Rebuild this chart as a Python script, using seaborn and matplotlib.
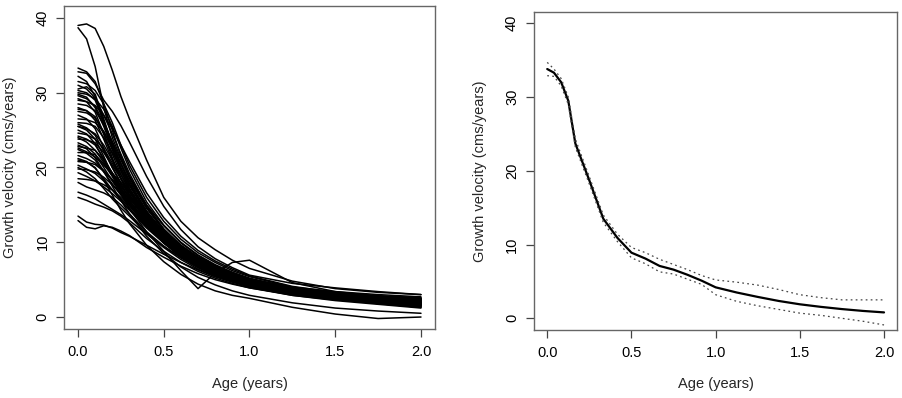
import matplotlib
matplotlib.use("Agg")
import matplotlib.pyplot as plt
import seaborn as sns
import pandas as pd

# ---------------- data ----------------
ages = [0.0, 0.05, 0.1, 0.15, 0.2, 0.25, 0.3, 0.4, 0.5, 0.6, 0.7, 0.8, 0.9, 1.0, 1.25, 1.5, 1.75, 2.0]

c01 = [39.0, 39.2, 38.6, 36.2, 33.0, 29.5, 26.5, 21.0, 16.0, 12.8, 10.6, 9.0, 7.6, 6.5, 4.8, 3.8, 3.3, 3.0]
c02 = [38.7, 37.2, 33.5, 28.0, 24.0, 21.2, 18.8, 15.0, 12.2, 9.9, 8.2, 6.9, 5.9, 5.1, 3.7, 2.9, 2.3, 1.9]
c03 = [33.3, 32.8, 31.5, 28.5, 25.0, 21.5, 18.8, 14.6, 11.6, 9.4, 7.8, 6.6, 5.6, 4.9, 3.7, 3.0, 2.5, 2.1]
c04 = [32.8, 32.6, 31.2, 29.0, 27.5, 25.6, 23.4, 18.8, 14.8, 11.7, 9.4, 7.8, 6.6, 5.6, 4.5, 3.9, 3.4, 3.0]
c05 = [32.2, 31.5, 29.5, 26.0, 22.5, 19.5, 17.2, 13.6, 10.9, 8.9, 7.4, 6.2, 5.3, 4.6, 3.4, 2.6, 2.0, 1.5]
c06 = [31.5, 31.2, 30.3, 28.5, 26.0, 23.0, 20.3, 16.0, 12.8, 10.4, 8.6, 7.3, 6.2, 5.4, 4.0, 3.2, 2.7, 2.4]
c07 = [31.0, 30.5, 29.3, 27.0, 24.5, 21.8, 19.2, 14.9, 11.8, 9.5, 7.8, 6.5, 5.5, 4.7, 3.4, 2.5, 1.9, 1.4]
c08 = [30.5, 30.8, 29.8, 26.5, 23.0, 20.0, 17.6, 14.0, 11.3, 9.2, 7.6, 6.4, 5.5, 4.8, 3.6, 3.0, 2.6, 2.3]
c09 = [30.0, 29.8, 29.2, 27.8, 25.5, 22.6, 19.8, 15.4, 12.3, 10.0, 8.3, 7.0, 6.0, 5.2, 3.8, 3.0, 2.4, 2.0]
c10 = [29.8, 29.4, 28.0, 25.5, 22.5, 19.6, 17.2, 13.5, 10.9, 8.9, 7.5, 6.4, 5.5, 4.8, 3.5, 2.8, 2.3, 1.9]
c11 = [29.6, 29.2, 28.2, 26.0, 23.5, 21.0, 18.6, 14.6, 11.7, 9.6, 8.0, 6.8, 5.8, 5.0, 3.6, 2.7, 2.1, 1.6]
c12 = [29.2, 28.8, 27.4, 24.5, 21.3, 18.5, 16.2, 12.8, 10.3, 8.4, 7.0, 5.9, 5.0, 4.3, 3.2, 2.6, 2.1, 1.7]
c13 = [28.5, 28.3, 27.6, 25.8, 23.3, 20.5, 17.8, 13.8, 11.0, 9.0, 7.5, 6.3, 5.4, 4.7, 3.4, 2.7, 2.2, 1.8]
c14 = [28.0, 27.6, 26.3, 23.8, 21.0, 18.5, 16.4, 13.2, 10.8, 8.9, 7.4, 6.3, 5.4, 4.7, 3.6, 3.0, 2.5, 2.2]
c15 = [27.5, 27.3, 26.6, 24.8, 22.4, 19.9, 17.6, 14.0, 11.3, 9.2, 7.6, 6.4, 5.5, 4.8, 3.6, 2.9, 2.4, 2.0]
c16 = [27.0, 26.5, 25.2, 22.6, 20.0, 17.8, 16.0, 13.0, 10.6, 8.7, 7.2, 6.0, 5.1, 4.4, 3.2, 2.5, 2.0, 1.6]
c17 = [26.5, 26.4, 26.0, 24.8, 22.8, 20.5, 18.3, 14.6, 11.7, 9.6, 8.0, 6.8, 5.8, 5.0, 3.8, 3.1, 2.7, 2.4]
c18 = [25.8, 25.3, 24.3, 22.2, 20.0, 18.0, 16.3, 13.3, 10.9, 9.1, 7.6, 6.4, 5.5, 4.8, 3.7, 3.1, 2.7, 2.4]
c19 = [25.5, 25.2, 24.5, 23.0, 21.0, 19.0, 17.1, 13.8, 11.3, 9.3, 7.7, 6.5, 5.6, 4.9, 3.6, 2.8, 2.2, 1.7]
c20 = [25.0, 24.5, 23.2, 21.0, 19.0, 17.2, 15.6, 12.8, 10.5, 8.6, 7.1, 5.9, 5.0, 4.3, 3.1, 2.4, 1.8, 1.3]
c21 = [24.6, 24.4, 23.8, 22.5, 20.6, 18.6, 16.7, 13.3, 10.7, 8.7, 7.2, 6.0, 5.2, 4.5, 3.3, 2.6, 2.1, 1.7]
c22 = [24.2, 23.8, 23.0, 21.2, 19.2, 17.3, 15.5, 12.6, 10.3, 8.5, 7.1, 6.0, 5.1, 4.4, 3.2, 2.6, 2.1, 1.8]
c23 = [23.8, 23.7, 23.3, 22.0, 20.3, 18.5, 16.8, 13.7, 11.2, 9.2, 7.7, 6.5, 5.6, 4.9, 3.8, 3.1, 2.7, 2.4]
c24 = [23.3, 22.8, 21.8, 20.0, 18.2, 16.5, 15.0, 12.2, 9.9, 8.1, 6.7, 5.6, 4.8, 4.1, 3.0, 2.4, 1.9, 1.5]
c25 = [22.8, 22.6, 22.3, 21.0, 19.3, 17.6, 15.9, 13.0, 10.7, 8.8, 7.3, 6.2, 5.3, 4.6, 3.5, 2.8, 2.4, 2.1]
c26 = [22.4, 21.9, 21.0, 19.4, 17.8, 16.3, 14.9, 12.3, 10.1, 8.3, 6.9, 5.8, 5.0, 4.3, 3.1, 2.4, 1.8, 1.3]
c27 = [22.0, 22.0, 21.7, 20.5, 18.8, 17.0, 15.3, 12.3, 9.9, 8.0, 6.6, 5.5, 4.7, 4.0, 2.9, 2.2, 1.7, 1.2]
c28 = [21.6, 21.2, 20.6, 19.6, 18.4, 17.1, 15.8, 13.2, 11.0, 9.1, 7.6, 6.5, 5.6, 4.9, 3.8, 3.2, 2.8, 2.5]
c29 = [21.2, 20.8, 19.9, 18.5, 17.0, 15.6, 14.3, 11.9, 9.9, 8.2, 6.9, 5.9, 5.1, 4.5, 3.5, 2.9, 2.5, 2.2]
c30 = [20.8, 20.7, 20.4, 19.5, 18.3, 16.8, 15.2, 12.4, 10.2, 8.4, 6.9, 5.8, 5.0, 4.3, 3.2, 2.5, 2.0, 1.6]
c31 = [20.3, 19.8, 19.2, 18.2, 17.0, 15.8, 14.6, 12.1, 10.0, 8.3, 6.9, 5.8, 5.0, 4.4, 3.4, 2.8, 2.4, 2.1]
c32 = [19.8, 19.7, 19.4, 18.7, 17.7, 16.5, 15.2, 12.6, 10.4, 8.7, 7.3, 6.2, 5.4, 4.8, 3.8, 3.2, 2.8, 2.6]
c33 = [19.3, 18.8, 18.2, 17.4, 16.5, 15.5, 14.4, 12.1, 10.0, 8.3, 6.9, 5.8, 5.0, 4.4, 3.3, 2.7, 2.2, 1.9]
c34 = [18.5, 18.4, 18.2, 17.7, 17.0, 16.0, 14.9, 12.3, 10.1, 8.4, 7.0, 5.9, 5.1, 4.5, 3.5, 2.9, 2.5, 2.2]
c35 = [18.0, 17.4, 17.0, 16.6, 16.0, 15.0, 13.8, 11.4, 9.5, 7.9, 6.6, 5.6, 4.8, 4.2, 3.2, 2.6, 2.2, 1.9]
c36 = [16.7, 16.3, 15.8, 15.1, 14.4, 13.7, 12.9, 11.1, 9.4, 8.0, 6.8, 5.8, 5.1, 4.5, 3.5, 2.9, 2.5, 2.3]
c37 = [16.0, 15.6, 15.1, 14.7, 14.2, 13.5, 12.6, 10.5, 8.8, 7.3, 6.1, 5.2, 4.5, 3.9, 2.9, 2.3, 1.9, 1.6]
c38 = [13.5, 12.7, 12.4, 12.3, 11.9, 11.3, 10.8, 9.6, 8.4, 7.3, 6.3, 5.4, 4.7, 4.2, 3.2, 2.6, 2.2, 1.9]
c39 = [12.9, 12.0, 11.8, 12.2, 12.0, 11.5, 10.9, 9.3, 8.0, 6.8, 5.8, 5.0, 4.4, 3.9, 3.0, 2.5, 2.1, 1.8]
c40 = [25.5, 25.0, 23.8, 21.5, 19.0, 16.6, 14.5, 11.4, 8.8, 6.2, 3.8, 5.9, 7.3, 7.6, 4.6, 3.4, 2.8, 2.4]
c41 = [21.0, 20.7, 20.0, 18.3, 16.3, 14.3, 12.5, 9.6, 7.4, 5.7, 4.4, 3.5, 2.9, 2.5, 1.3, 0.4, -0.2, 0.0]
c42 = [23.0, 22.5, 21.3, 19.5, 17.5, 15.6, 13.8, 10.8, 8.5, 6.7, 5.3, 4.3, 3.5, 2.9, 1.9, 1.2, 0.8, 0.5]
c43 = [27.8, 27.6, 26.8, 24.5, 21.8, 19.1, 16.8, 13.2, 10.6, 8.6, 7.2, 6.1, 5.2, 4.5, 3.3, 2.6, 2.1, 1.7]
c44 = [24.0, 23.4, 22.3, 20.7, 19.0, 17.5, 16.0, 13.4, 11.2, 9.4, 7.9, 6.7, 5.8, 5.1, 4.0, 3.4, 3.0, 2.7]
c45 = [30.3, 30.0, 29.0, 26.2, 23.2, 20.5, 18.1, 14.2, 11.3, 9.1, 7.5, 6.3, 5.3, 4.6, 3.3, 2.5, 1.9, 1.4]
c46 = [26.0, 25.9, 25.5, 24.0, 22.0, 19.9, 17.8, 14.1, 11.4, 9.3, 7.7, 6.5, 5.6, 4.9, 3.7, 3.0, 2.5, 2.1]
c47 = [20.0, 19.4, 18.5, 17.2, 15.8, 14.6, 13.5, 11.2, 9.3, 7.7, 6.4, 5.4, 4.7, 4.1, 3.0, 2.4, 1.9, 1.5]
c48 = [22.6, 22.1, 21.4, 20.3, 19.2, 18.0, 16.7, 13.9, 11.5, 9.5, 7.9, 6.7, 5.8, 5.1, 3.9, 3.2, 2.8, 2.5]
c49 = [29.0, 28.8, 28.3, 27.0, 25.2, 23.0, 20.8, 16.6, 13.3, 10.8, 8.9, 7.5, 6.4, 5.5, 4.1, 3.3, 2.8, 2.5]

curves = [c01, c02, c03, c04, c05, c06, c07, c08, c09, c10, c11, c12, c13, c14, c15, c16, c17,
          c18, c19, c20, c21, c22, c23, c24, c25, c26, c27, c28, c29, c30, c31, c32, c33, c34,
          c35, c36, c37, c38, c39, c40, c41, c42, c43, c44, c45, c46, c47, c48, c49]

mean_ages = [0.0, 0.04, 0.083, 0.125, 0.167, 0.25, 0.333, 0.417, 0.5, 0.583, 0.667, 0.75,
             0.833, 0.917, 1.0, 1.125, 1.25, 1.375, 1.5, 1.625, 1.75, 1.875, 2.0]
mean_vel = [33.8, 33.3, 32.0, 29.5, 23.7, 18.7, 13.5, 10.9, 8.9, 8.1, 7.1, 6.6,
            5.9, 5.1, 4.2, 3.5, 2.9, 2.35, 1.9, 1.55, 1.25, 1.0, 0.8]
upper_vel = [34.7, 33.8, 32.5, 30.0, 24.3, 19.2, 14.0, 11.4, 9.6, 8.9, 8.0, 7.3,
             6.6, 5.8, 5.2, 4.9, 4.5, 3.9, 3.2, 2.8, 2.5, 2.5, 2.5]
lower_vel = [32.9, 32.8, 31.5, 29.0, 23.2, 18.2, 13.0, 10.4, 8.2, 7.4, 6.3, 6.0,
             5.3, 4.6, 3.2, 2.3, 1.7, 1.2, 0.7, 0.4, 0.0, -0.4, -0.9]

xticks = [0.0, 0.5, 1.0, 1.5, 2.0]
xticklabels = ["0.0", "0.5", "1.0", "1.5", "2.0"]
yticks = [0, 10, 20, 30, 40]
yticklabels = ["0", "10", "20", "30", "40"]
xlabel = "Age (years)"
ylabel = "Growth velocity (cms/years)"

# ---------------- tables ----------------
rows = []
for i, c in enumerate(curves):
    for a, v in zip(ages, c):
        rows.append((i, a, v))
df_curves = pd.DataFrame(rows, columns=["child", "age", "velocity"])
df_mean = pd.DataFrame({"age": mean_ages, "mean": mean_vel, "upper": upper_vel, "lower": lower_vel})

# ---------------- style ----------------
sns.set_theme(style="white")
plt.rcParams["font.family"] = ["Liberation Sans", "DejaVu Sans"]
FS = 10.5

fig = plt.figure(figsize=(9.03, 3.98), dpi=100)
ax1 = fig.add_axes([0.0712, 0.1734, 0.4102, 0.8115])
ax2 = fig.add_axes([0.5911, 0.1706, 0.4028, 0.8005])

sns.lineplot(data=df_curves, x="age", y="velocity", units="child", estimator=None,
             color="black", lw=1.1, ax=ax1, legend=False, sort=False)

sns.lineplot(data=df_mean, x="age", y="mean", color="black", lw=1.6, ax=ax2)
for col in ["upper", "lower"]:
    sns.lineplot(data=df_mean, x="age", y=col, color="#444444", lw=0.9,
                 linestyle=(0, (1.4, 2.6)), ax=ax2)

for ax in (ax1, ax2):
    ax.set_xlim(-0.08, 2.08)
    ax.set_ylim(-1.6, 41.6)
    ax.set_xticks(xticks)
    ax.set_xticklabels(xticklabels, fontsize=FS, color="black")
    ax.set_yticks(yticks)
    ax.set_yticklabels(yticklabels, fontsize=FS, color="black", rotation=90, va="center")
    ax.tick_params(axis="both", which="major", direction="out", length=5.8, width=0.9,
                   color="#444444", bottom=True, left=True)
    ax.tick_params(axis="x", pad=6.0)
    ax.tick_params(axis="y", pad=4.8)
    for s in ax.spines.values():
        s.set_visible(True)
        s.set_color("#666666")
        s.set_linewidth(1.0)
    ax.grid(False)
    ax.set_facecolor("white")
    ax.set_xlabel(xlabel, fontsize=FS, va="center")
    ax.set_ylabel(ylabel, fontsize=FS, va="center")

ax1.xaxis.set_label_coords(0.5, -0.170)
ax1.yaxis.set_label_coords(-0.1463, 0.5)
ax2.xaxis.set_label_coords(0.5, -0.169)
ax2.yaxis.set_label_coords(-0.148, 0.5)

fig.savefig("out.png", dpi=100, facecolor="white")
